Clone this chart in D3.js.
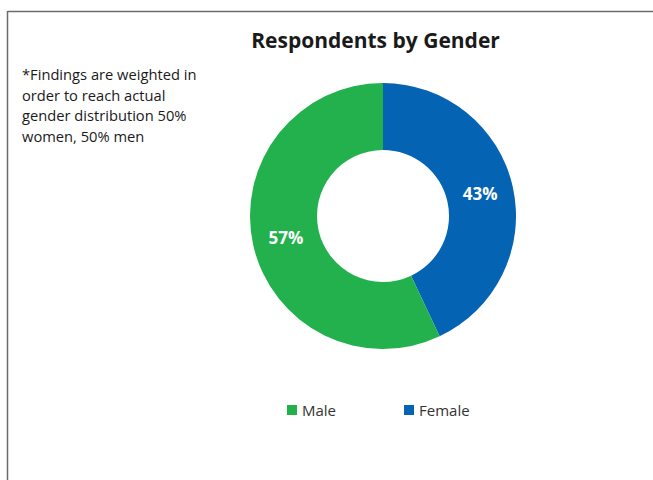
<!DOCTYPE html>
<html>
<head>
<meta charset="utf-8">
<script src="https://cdn.jsdelivr.net/npm/d3@7"></script>
<style>
  html, body { margin: 0; padding: 0; background: #fff; }
  svg { display: block; font-family: "Open Sans", "Noto Sans", sans-serif; }
</style>
</head>
<body>
<svg id="chart" width="653" height="480"></svg>
<script>
// Share of respondents by gender (percent)
const categories = ["Male", "Female"];
const shares = [57, 43];
const colors = ["#23B14D", "#0563B4"];
const titleText = "Respondents by Gender";
const noteLines = [
  "*Findings are weighted in",
  "order to reach actual",
  "gender distribution 50%",
  "women, 50% men"
];

const svg = d3.select("#chart");

// Frame: top and left edges of the chart area
svg.append("line").attr("x1", 7.5).attr("x2", 653).attr("y1", 11.5).attr("y2", 11.5)
  .attr("stroke", "#6b6b6b").attr("stroke-width", 1.5);
svg.append("line").attr("x1", 7.5).attr("x2", 7.5).attr("y1", 11).attr("y2", 480)
  .attr("stroke", "#6b6b6b").attr("stroke-width", 1.5);

// Title
svg.append("text")
  .attr("x", 375.5).attr("y", 48)
  .attr("text-anchor", "middle")
  .attr("font-size", 21).attr("font-weight", 700)
  .attr("fill", "#1a1a1a")
  .text(titleText);

// Weighting note
const note = svg.append("text")
  .attr("x", 22).attr("y", 80)
  .attr("font-size", 14.7).attr("fill", "#1a1a1a");
note.selectAll("tspan").data(noteLines).join("tspan")
  .attr("x", 22).attr("dy", (d, i) => i === 0 ? 0 : 20.5)
  .text(d => d);

// Donut: Female slice starts at 12 o'clock and runs clockwise
const cx = 383, cy = 216, outerR = 133, innerR = 66;
const data = categories.map((c, i) => ({ category: c, value: shares[i], color: colors[i] }));
const ordered = [data[1], data[0]];

const pie = d3.pie().sort(null).value(d => d.value);
const arc = d3.arc().innerRadius(innerR).outerRadius(outerR);
const arcs = pie(ordered);

const g = svg.append("g").attr("transform", `translate(${cx},${cy})`);
g.selectAll("path").data(arcs).join("path")
  .attr("d", arc)
  .attr("fill", d => d.data.color);

g.selectAll("text.value").data(arcs).join("text")
  .attr("class", "value")
  .attr("transform", d => `translate(${arc.centroid(d)})`)
  .attr("text-anchor", "middle")
  .attr("dy", "0.35em")
  .attr("font-size", 17).attr("font-weight", 700)
  .attr("fill", "#ffffff")
  .text(d => d.data.value + "%");

// Legend
const legendX = [287, 404];
const legend = svg.append("g");
const items = legend.selectAll("g").data(data).join("g")
  .attr("transform", (d, i) => `translate(${legendX[i]},405)`);
items.append("rect").attr("width", 10).attr("height", 10).attr("fill", d => d.color);
items.append("text").attr("x", 15).attr("y", 11)
  .attr("font-size", 15).attr("fill", "#333")
  .text(d => d.category);
</script>
</body>
</html>
